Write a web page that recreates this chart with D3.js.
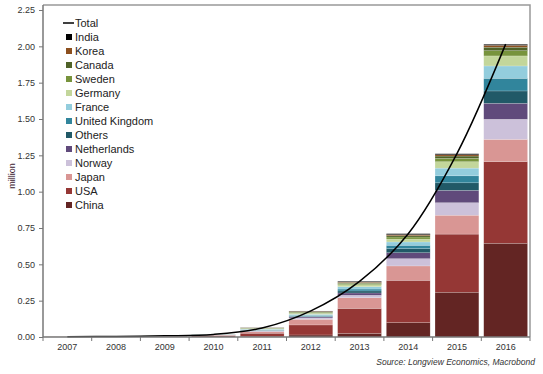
<!DOCTYPE html>
<html>
<head>
<meta charset="utf-8">
<script src="https://cdn.jsdelivr.net/npm/d3@7"></script>
<style>
  body { margin: 0; background: #fff; }
  svg { font-family: "Liberation Sans", Arial, sans-serif; }
</style>
</head>
<body>
<div id="chart"></div>
<script>
// data (million)
var years = ["2007", "2008", "2009", "2010", "2011", "2012", "2013", "2014", "2015", "2016"];
var series = ["China", "USA", "Japan", "Norway", "Netherlands", "Others", "United Kingdom",
              "France", "Germany", "Sweden", "Canada", "Korea", "India"];
var China       = [0.000, 0.001, 0.001, 0.001, 0.004, 0.014, 0.025, 0.099, 0.308, 0.645];
var USA         = [0.001, 0.002, 0.004, 0.010, 0.022, 0.069, 0.172, 0.291, 0.400, 0.562];
var Japan       = [0.000, 0.000, 0.001, 0.002, 0.010, 0.039, 0.073, 0.099, 0.130, 0.153];
var Norway      = [0.000, 0.000, 0.001, 0.001, 0.004, 0.009, 0.017, 0.050, 0.086, 0.138];
var Netherlands = [0.000, 0.000, 0.000, 0.001, 0.003, 0.007, 0.016, 0.041, 0.085, 0.110];
var Others      = [0.000, 0.000, 0.000, 0.001, 0.003, 0.004, 0.014, 0.028, 0.052, 0.085];
var UK          = [0.000, 0.000, 0.000, 0.001, 0.004, 0.007, 0.013, 0.023, 0.048, 0.087];
var France      = [0.000, 0.000, 0.000, 0.001, 0.004, 0.007, 0.016, 0.023, 0.053, 0.085];
var Germany     = [0.001, 0.001, 0.001, 0.001, 0.004, 0.007, 0.014, 0.020, 0.044, 0.069];
var Sweden      = [0.000, 0.000, 0.000, 0.000, 0.003, 0.007, 0.009, 0.014, 0.023, 0.036];
var Canada      = [0.000, 0.000, 0.000, 0.000, 0.002, 0.004, 0.005, 0.009, 0.016, 0.024];
var Korea       = [0.000, 0.000, 0.000, 0.000, 0.001, 0.003, 0.004, 0.007, 0.009, 0.013];
var India       = [0.000, 0.000, 0.000, 0.000, 0.001, 0.002, 0.005, 0.007, 0.007, 0.007];
var Total       = [0.002, 0.004, 0.008, 0.018, 0.062, 0.180, 0.383, 0.711, 1.262, 2.015];
var yTicks = [0, 0.25, 0.5, 0.75, 1.0, 1.25, 1.5, 1.75, 2.0, 2.25];

var values = [China, USA, Japan, Norway, Netherlands, Others, UK, France, Germany, Sweden, Canada, Korea, India];
var colors = ["#632523", "#953735", "#d99694", "#ccc1da", "#604a7b", "#215967", "#31859c",
              "#93cddd", "#c3d69b", "#77933c", "#4f6228", "#8c4f1e", "#000000"];

var w = 543, h = 374;
var margin = { top: 5, right: 13, bottom: 37, left: 43 };

var svg = d3.select("#chart").append("svg")
    .attr("width", w)
    .attr("height", h);

// build rows for the stack
var table = years.map(function (y, i) {
    var row = { year: y };
    series.forEach(function (s, j) { row[s] = values[j][i]; });
    return row;
});
var stacked = d3.stack().keys(series)(table);

var x = d3.scaleBand()
    .domain(years)
    .range([margin.left, w - margin.right])
    .paddingInner(0.1)
    .paddingOuter(0.05);
var y = d3.scaleLinear()
    .domain([0, 2.25])
    .range([h - margin.bottom, 10]);

// bars
svg.append("g").selectAll("g")
    .data(stacked)
    .enter().append("g")
    .attr("fill", function (d, i) { return colors[i]; })
    .selectAll("rect")
    .data(function (d) { return d; })
    .enter().append("rect")
    .attr("x", function (d) { return x(d.data.year); })
    .attr("y", function (d) { return y(d[1]); })
    .attr("width", x.bandwidth())
    .attr("height", function (d) { return Math.max(0, y(d[0]) - y(d[1])); })
    .attr("stroke", "#fff")
    .attr("stroke-opacity", 0.35)
    .attr("stroke-width", 0.5);

// total line
var line = d3.line()
    .x(function (d, i) { return x(years[i]) + x.bandwidth() / 2; })
    .y(function (d) { return y(d); })
    .curve(d3.curveCatmullRom);
svg.append("path")
    .datum(Total)
    .attr("fill", "none")
    .attr("stroke", "#000")
    .attr("stroke-width", 1.5)
    .attr("d", line);

// frame (top and right)
svg.append("path")
    .attr("fill", "none")
    .attr("stroke", "#999")
    .attr("stroke-width", 1.5)
    .attr("d", "M" + margin.left + "," + margin.top + "H" + (w - margin.right) + "V" + y(0));

// y axis
var yAxis = svg.append("g")
    .attr("transform", "translate(" + margin.left + ",0)")
    .call(d3.axisLeft(y).tickValues(yTicks).tickFormat(d3.format(".2f")).tickSize(4));
yAxis.select(".domain").attr("d", "M0," + margin.top + "V" + y(0)).attr("stroke", "#777").attr("stroke-width", 1.5);
yAxis.selectAll(".tick line").attr("stroke", "#777");
yAxis.selectAll("text").attr("fill", "#333").style("font-size", "9px").attr("x", -8);

// x axis
var xAxis = svg.append("g")
    .attr("transform", "translate(0," + y(0) + ")")
    .call(d3.axisBottom(x).tickSize(0).tickPadding(7));
xAxis.select(".domain").attr("d", "M" + margin.left + ",0H" + (w - margin.right)).attr("stroke", "#777").attr("stroke-width", 1.5);
xAxis.selectAll("text").attr("fill", "#333").style("font-size", "9px");
var half = (x.step() - x.bandwidth()) / 2;
var edges = years.map(function (d) { return x(d) - half; });
edges.push(w - margin.right);
xAxis.selectAll(".edge")
    .data(edges)
    .enter().append("line")
    .attr("class", "edge")
    .attr("x1", function (d) { return d; })
    .attr("x2", function (d) { return d; })
    .attr("y1", 0)
    .attr("y2", 4)
    .attr("stroke", "#777");

// y label
svg.append("text")
    .attr("transform", "translate(15,176) rotate(-90)")
    .attr("text-anchor", "middle")
    .style("font-size", "9px")
    .attr("fill", "#3a2030")
    .text("million");

// legend
var legend = svg.append("g").attr("transform", "translate(63,23)");
legend.append("line")
    .attr("x1", 0).attr("x2", 11).attr("y1", 0).attr("y2", 0)
    .attr("stroke", "#000").attr("stroke-width", 1.5);
legend.append("text")
    .attr("x", 12).attr("y", 4)
    .style("font-size", "11px").attr("fill", "#222")
    .text("Total");
var items = series.slice().reverse();
var itemColors = colors.slice().reverse();
var rows = legend.selectAll(".item")
    .data(items)
    .enter().append("g")
    .attr("class", "item")
    .attr("transform", function (d, i) { return "translate(0," + (14 * (i + 1)) + ")"; });
rows.append("rect")
    .attr("x", 3).attr("y", -3).attr("width", 6).attr("height", 6)
    .attr("fill", function (d, i) { return itemColors[i]; });
rows.append("text")
    .attr("x", 12).attr("y", 4)
    .style("font-size", "11px").attr("fill", "#222")
    .text(function (d) { return d; });

// source
svg.append("text")
    .attr("x", 535).attr("y", 365)
    .attr("text-anchor", "end")
    .style("font-size", "8.5px")
    .style("font-style", "italic")
    .attr("fill", "#333")
    .text("Source: Longview Economics, Macrobond");
</script>
</body>
</html>
